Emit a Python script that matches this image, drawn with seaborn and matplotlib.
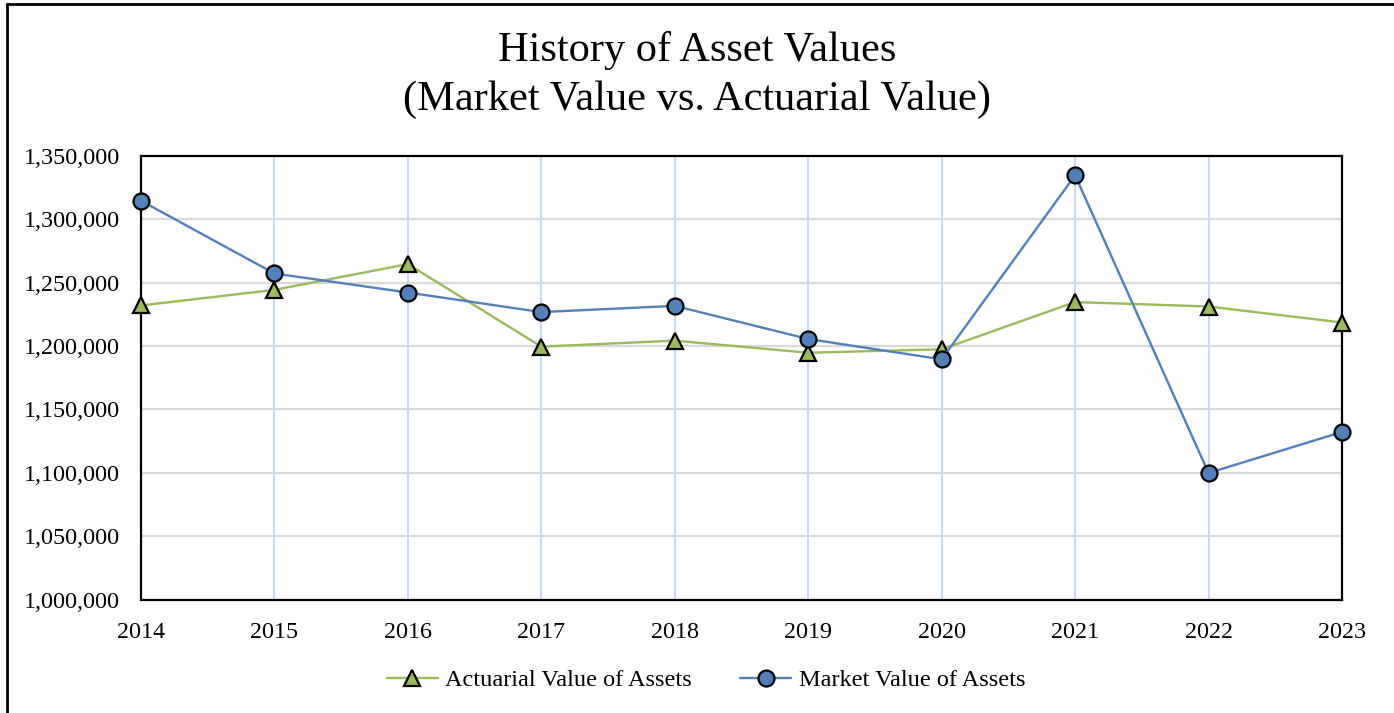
import pandas as pd
import matplotlib.pyplot as plt
import seaborn as sns
from matplotlib.patches import Rectangle
from matplotlib.ticker import FuncFormatter

# ----------------------------------------------------------
# Data
# ----------------------------------------------------------
years = list(range(2014, 2024))
actuarial = [1231900, 1244200, 1264500, 1199500, 1204200,
             1194700, 1197400, 1234600, 1231100, 1218500]
market = [1314400, 1257100, 1242100, 1226700, 1231600,
          1205500, 1189500, 1334400, 1100000, 1132300]

df = pd.DataFrame({"Year": years,
                   "Actuarial Value of Assets": actuarial,
                   "Market Value of Assets": market})

GREEN = "#9BBB59"
BLUE = "#4F81BD"

sns.set_style("white")
plt.rcParams["font.family"] = ["Liberation Serif", "DejaVu Serif"]
plt.rcParams["text.color"] = "black"

fig = plt.figure(figsize=(13.94, 7.13), dpi=100)
ax = fig.add_axes([0.1011, 0.1585, 0.8616, 0.6234])

sns.lineplot(data=df, x="Year", y="Actuarial Value of Assets", ax=ax,
             color=GREEN, linewidth=1.7, marker="^", markersize=12,
             markerfacecolor=GREEN, markeredgecolor="black", markeredgewidth=1.6,
             label="Actuarial Value of Assets", clip_on=False, zorder=5)
sns.lineplot(data=df, x="Year", y="Market Value of Assets", ax=ax,
             color=BLUE, linewidth=1.7, marker="o", markersize=11.5,
             markerfacecolor=BLUE, markeredgecolor="black", markeredgewidth=1.6,
             label="Market Value of Assets", clip_on=False, zorder=6)

ax.set_xlim(2014, 2023)
ax.set_ylim(1000000, 1350000)
ax.set_xticks(years)
ax.set_yticks(range(1000000, 1350001, 50000))
ax.yaxis.set_major_formatter(FuncFormatter(lambda v, p: f"{int(v):,}"))
ax.set_xlabel("")
ax.set_ylabel("")
ax.tick_params(axis="both", length=0, labelsize=17.4, colors="black")
ax.tick_params(axis="x", pad=16)
ax.tick_params(axis="y", pad=15)

# gridlines: grey horizontal, light blue vertical
ax.grid(False)
for y in range(1050000, 1350000, 50000):
    ax.axhline(y, color="#D9D9D9", linewidth=1.6, zorder=1)
for x in years[1:-1]:
    ax.axvline(x, color="#C6D9F1", linewidth=1.4, zorder=1)

for s in ax.spines.values():
    s.set_visible(True)
    s.set_color("black")
    s.set_linewidth(1.6)

ax.get_legend().remove()
handles, labels = ax.get_legend_handles_labels()
fig.legend(handles, labels, loc="center", bbox_to_anchor=(706 / 1394, 1 - 680 / 713),
           ncol=2, frameon=False, fontsize=17.5, handlelength=2.1,
           columnspacing=2.0, handletextpad=0.3)

fig.text(0.5, 1 - 51 / 713, "History of Asset Values", ha="center", va="center",
         fontsize=30.5, color="black")
fig.text(0.5, 1 - 100 / 713, "(Market Value vs. Actuarial Value)", ha="center", va="center",
         fontsize=30.5, color="black")

# outer frame (only left and top edges show in the original)
fig.patches.append(Rectangle((7 / 1394, -0.1), 1.2, 1.1 - 4 / 713,
                             transform=fig.transFigure, fill=False,
                             edgecolor="black", linewidth=2))

fig.savefig("out.png", dpi=100)
